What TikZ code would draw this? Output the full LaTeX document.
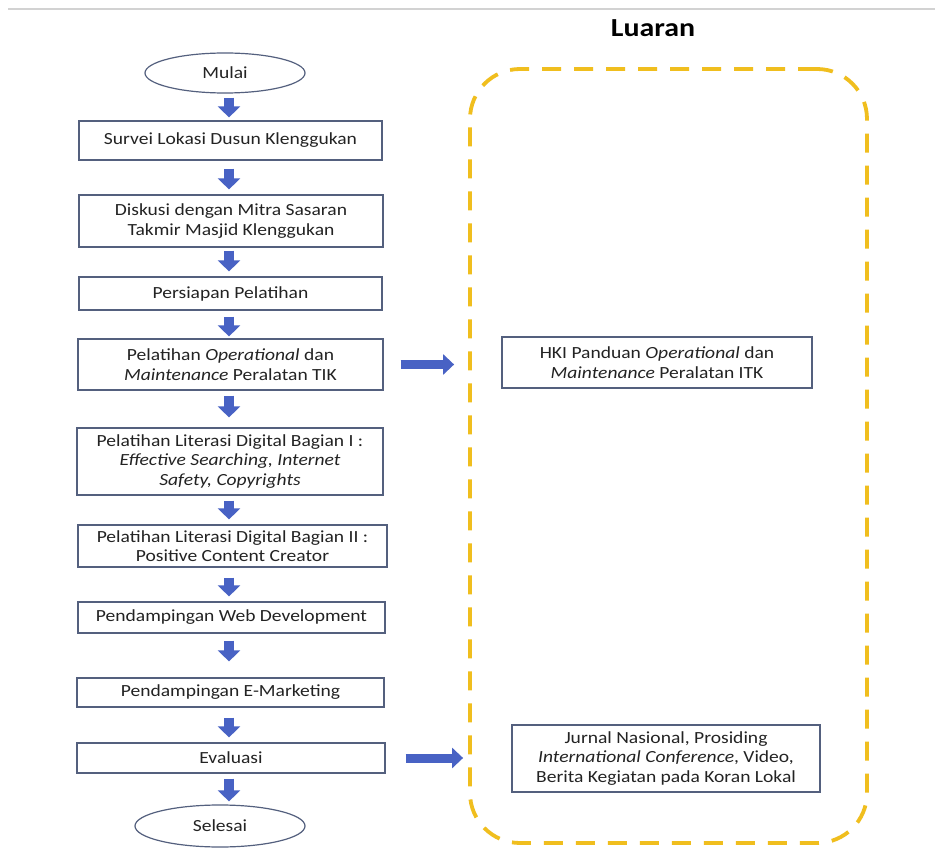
\documentclass[tikz,border=0pt]{standalone}
\usepackage{fontspec}
\setmainfont{Carlito}[FakeStretch=1.15]
\usetikzlibrary{shapes.geometric,arrows.meta}
\definecolor{boxline}{RGB}{84,96,126}
\definecolor{arrblue}{RGB}{72,98,196}
\definecolor{gold}{RGB}{240,190,30}
\definecolor{txt}{RGB}{35,35,35}
\begin{document}
\begin{tikzpicture}[x=1pt,y=-1pt,
  font=\fontsize{17}{19.5}\selectfont, text=txt,
  stepbox/.style={draw=boxline, line width=1.2pt, fill=white, inner sep=0pt, align=center},
  terminal/.style={ellipse, draw=boxline, line width=1.2pt, inner sep=0pt, align=center},
  barrow/.style={draw=arrblue, line width=10.5pt, -{Triangle[width=22pt,length=11pt]}, arrblue},
  harrow/.style={draw=arrblue, line width=9pt, -{Triangle[width=20pt,length=11pt]}, arrblue}]
\useasboundingbox (0,0) rectangle (935,850);
\fill[white] (0,0) rectangle (935,850);
\coordinate (tl) at (8,9);
\coordinate (tr) at (935,9);
\draw[gray!35, line width=1.8pt] (tl) -- (tr);
\node[font=\fontsize{26}{28}\selectfont\bfseries, text=black] (title) at (653,28) {Luaran};

\node[draw=gold, line width=3.8pt, dash pattern=on 19pt off 13pt, rounded corners=50pt,
  minimum width=397pt, minimum height=774pt] (luaran) at (668.5,456) {};

\node[terminal, minimum width=160pt, minimum height=40pt] (mulai) at (225,73) {Mulai};
\node[stepbox, minimum width=303pt, minimum height=39pt] (survei) at (230.5,140.5) {Survei Lokasi Dusun Klenggukan};
\node[stepbox, minimum width=304pt, minimum height=52pt] (diskusi) at (231,221) {Diskusi dengan Mitra Sasaran\\Takmir Masjid Klenggukan};
\node[stepbox, minimum width=303pt, minimum height=33pt] (persiapan) at (230.5,293.5) {Persiapan Pelatihan};
\node[stepbox, minimum width=305pt, minimum height=51pt] (op) at (230.5,364.5) {Pelatihan \textit{Operational} dan\\\textit{Maintenance} Peralatan TIK};
\node[stepbox, minimum width=306pt, minimum height=67pt] (lit1) at (230,461.5) {Pelatihan Literasi Digital Bagian I :\\\textit{Effective Searching, Internet}\\\textit{Safety, Copyrights}};
\node[stepbox, minimum width=309pt, minimum height=42pt] (lit2) at (232.5,546) {Pelatihan Literasi Digital Bagian II :\\Positive Content Creator};
\node[stepbox, minimum width=307pt, minimum height=31pt] (web) at (231.5,617.5) {Pendampingan Web Development};
\node[stepbox, minimum width=307pt, minimum height=29pt] (emkt) at (230.5,692.5) {Pendampingan E-Marketing};
\node[stepbox, minimum width=308pt, minimum height=30pt] (eval) at (231,758) {Evaluasi};
\node[terminal, minimum width=170pt, minimum height=42pt] (selesai) at (220,826) {Selesai};

\node[stepbox, minimum width=310pt, minimum height=51pt] (hki) at (657,362.5) {HKI Panduan \textit{Operational} dan\\\textit{Maintenance} Peralatan ITK};
\node[stepbox, minimum width=308pt, minimum height=67pt] (jurnal) at (666,758.5) {Jurnal Nasional, Prosiding\\\textit{International Conference}, Video,\\Berita Kegiatan pada Koran Lokal};

\coordinate (ax) at (229,0);
\draw[barrow, shorten <=4pt, shorten >=3pt] (mulai.south -| ax) -- (survei.north -| ax);
\draw[barrow, shorten <=8pt, shorten >=5pt] (survei.south -| ax) -- (diskusi.north -| ax);
\draw[barrow, shorten <=3pt, shorten >=5pt] (diskusi.south -| ax) -- (persiapan.north -| ax);
\draw[barrow, shorten <=6pt, shorten >=2pt] (persiapan.south -| ax) -- (op.north -| ax);
\draw[barrow, shorten <=5pt, shorten >=10pt] (op.south -| ax) -- (lit1.north -| ax);
\draw[barrow, shorten <=5pt, shorten >=5pt] (lit1.south -| ax) -- (lit2.north -| ax);
\draw[barrow, shorten <=10pt, shorten >=5pt] (lit2.south -| ax) -- (web.north -| ax);
\draw[barrow, shorten <=7pt, shorten >=16pt] (web.south -| ax) -- (emkt.north -| ax);
\draw[barrow, shorten <=10pt, shorten >=5pt] (emkt.south -| ax) -- (eval.north -| ax);
\draw[barrow, shorten <=5pt, shorten >=3pt] (eval.south -| ax) -- (selesai.north -| ax);

\draw[harrow, shorten <=17pt, shorten >=14pt] (op.east) -- (op.east -| luaran.west);
\draw[harrow, shorten <=20pt, shorten >=5pt] (eval.east) -- (eval.east -| luaran.west);
\end{tikzpicture}
\end{document}
